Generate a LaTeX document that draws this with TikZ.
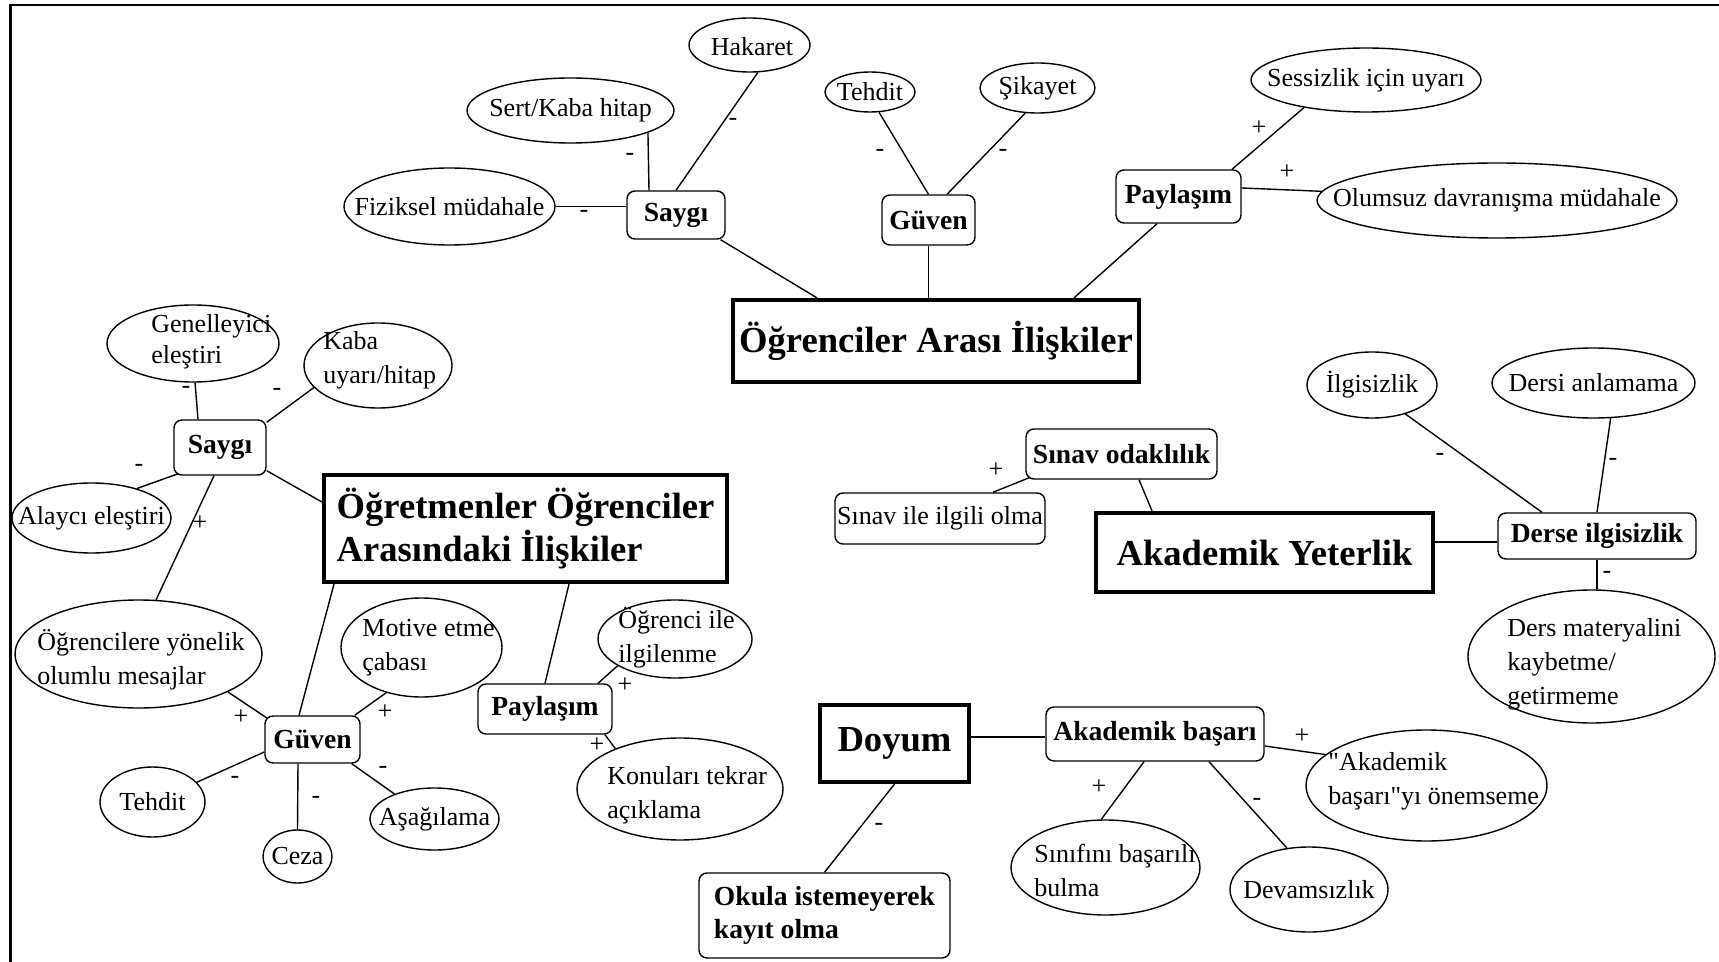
\documentclass[tikz,border=0pt]{standalone}
\usepackage{fontspec}
\setmainfont{Liberation Serif}[Ligatures=TeXOff]
\usetikzlibrary{shapes.geometric}

\newcommand\regfont{\fontsize{13}{17}\selectfont}
\newcommand\smallbold{\fontsize{13.8}{16.5}\selectfont\bfseries}
\newcommand\bigbold{\fontsize{18.3}{21.5}\selectfont\bfseries}

\begin{document}
\begin{tikzpicture}[x=0.5pt,y=-0.5pt,
  ell/.style={draw, ellipse, inner sep=0pt, line width=0.7pt},
  txt/.style={inner sep=0pt, align=left, font=\regfont},
  rbox/.style={draw, rectangle, rounded corners=4pt, inner sep=0pt, line width=0.7pt, font=\smallbold, align=left},
  mainbox/.style={draw, rectangle, inner sep=0pt, line width=2.1pt, font=\bigbold, align=left},
  sign/.style={inner sep=0pt, font=\regfont},
  link/.style={line width=0.7pt}]

\path[use as bounding box, fill=white] (0,0) rectangle (1719,962);

% page frame (top and left rules)
\draw[line width=1pt] (9,5) -- (1719,5);
\draw[line width=1.5pt] (10.5,4) -- (10.5,962);

% ---------------- Öğrenciler Arası İlişkiler ----------------
\node[mainbox, minimum width=203pt, minimum height=41pt] (ogr) at (936,341) {Öğrenciler Arası İlişkiler};
\node[rbox, minimum width=49pt, minimum height=24pt] (saygiA) at (676,215) {Saygı};
\node[rbox, minimum width=46.5pt, minimum height=25pt] (guvenA) at (928.5,220) {Güven};
\node[rbox, minimum width=62.5pt, minimum height=26.5pt] (paylA) at (1178.5,196.5) {Paylaşım};

\node[ell, minimum width=60.5pt, minimum height=27pt] (hakaret) at (749.5,45) {};
\node[txt] (hakaret-t) at (752,47) {Hakaret};
\node[ell, minimum width=103.5pt, minimum height=32.5pt] (sert) at (570.5,110.5) {};
\node[txt] (sert-t) at (sert) {Sert/Kaba hitap};
\node[ell, minimum width=105.5pt, minimum height=38.5pt] (fiz) at (449.5,206.5) {};
\node[txt] (fiz-t) at (fiz) {Fiziksel müdahale};
\node[ell, minimum width=45pt, minimum height=20pt] (tehditA) at (870,92) {};
\node[txt] (tehditA-t) at (tehditA) {Tehdit};
\node[ell, minimum width=57.5pt, minimum height=25pt] (sikayet) at (1037.5,88) {};
\node[txt] (sikayet-t) at (sikayet) {Şikayet};
\node[ell, minimum width=115pt, minimum height=32pt] (sessiz) at (1366,80) {};
\node[txt] (sessiz-t) at (sessiz) {Sessizlik için uyarı};
\node[ell, minimum width=180pt, minimum height=37.5pt] (olumsuz) at (1497,200.5) {};
\node[txt] (olumsuz-t) at (olumsuz) {Olumsuz davranışma müdahale};

\draw[link] (saygiA.-29) -- ([shift={(-119,0)}]ogr.north);
\draw[link] (guvenA.south) -- (guvenA.south |- ogr.north);
\draw[link] ([shift={(-21.5,0)}]paylA.south) -- ([shift={(138,0)}]ogr.north);

\draw[link] (fiz.east) -- (fiz.east -| saygiA.west);
\node[sign] (sg1) at (584,214) {-};
\draw[link] (sert.-16) -- ([shift={(-27,0)}]saygiA.north);
\node[sign] (sg2) at (630,157) {-};
\draw[link] (hakaret.-73) -- (saygiA.north);
\node[sign] (sg3) at (733,122) {-};
\draw[link] (tehditA.-66) -- (guvenA.north);
\node[sign] (sg4) at (880,153) {-};
\draw[link] (sikayet.-116) -- ([shift={(18.5,0)}]guvenA.north);
\node[sign] (sg5) at (1003,153) {-};
\draw[link] (sessiz.-156) -- ([shift={(53.5,0)}]paylA.north);
\node[sign] (sg6) at (1259,128) {+};
\draw[link] ([shift={(0,-8.5)}]paylA.east) -- (olumsuz.177);
\node[sign] (sg7) at (1287,172) {+};

% ---------------- Öğretmenler Öğrenciler Arasındaki İlişkiler ----------------
\node[mainbox, minimum width=201.5pt, minimum height=53.5pt] (ogrt) at (525.5,528.5) {Öğretmenler Öğrenciler\\Arasındaki İlişkiler};
\node[rbox, minimum width=46pt, minimum height=27.5pt] (saygiB) at (220,447.5) {Saygı};
\node[rbox, minimum width=47.5pt, minimum height=23.5pt] (guvenB) at (312.5,739.5) {Güven};
\node[rbox, minimum width=67pt, minimum height=25pt] (paylB) at (545,709) {Paylaşım};

\node[ell, minimum width=86pt, minimum height=38.5pt] (gen) at (193,343.5) {};
\node[txt, anchor=west, font=\fontsize{13}{15.5}\selectfont] (gen-t) at (151,341.5) {Genelleyici\\eleştiri};
\node[ell, minimum width=74pt, minimum height=42.5pt] (kaba) at (378,365.5) {};
\node[txt, anchor=west] (kaba-t) at (323,360) {Kaba\\uyarı/hitap};
\node[ell, minimum width=79.5pt, minimum height=35pt] (alayci) at (91.5,518) {};
\node[txt] (alayci-t) at (alayci) {Alaycı eleştiri};
\node[ell, minimum width=123.5pt, minimum height=54pt] (olumlu) at (138.5,654) {};
\node[txt, anchor=west] (olumlu-t) at (37,660) {Öğrencilere yönelik\\olumlu mesajlar};
\node[ell, minimum width=80.5pt, minimum height=49.5pt] (motive) at (421.5,647.5) {};
\node[txt, anchor=west] (motive-t) at (362,648) {Motive etme\\çabası};
\node[ell, minimum width=52.5pt, minimum height=35pt] (tehditB) at (152.5,802) {};
\node[txt] (tehditB-t) at (tehditB) {Tehdit};
\node[ell, minimum width=34.5pt, minimum height=26.5pt] (ceza) at (297.5,856.5) {};
\node[txt] (ceza-t) at (ceza) {Ceza};
\node[ell, minimum width=64.5pt, minimum height=31pt] (asagi) at (434.5,819) {};
\node[txt] (asagi-t) at (asagi) {Aşağılama};
\node[ell, minimum width=77pt, minimum height=39pt] (ilgilen) at (675,639) {};
\node[txt, anchor=west] (ilgilen-t) at (618,638) {Öğrenci ile\\ilgilenme};
\node[ell, minimum width=103pt, minimum height=51pt] (konu) at (680,789) {};
\node[txt, anchor=west] (konu-t) at (607,795) {Konuları tekrar\\açıklama};

\draw[link] (gen.-87) -- ([shift={(-22,0)}]saygiB.north);
\node[sign] (sg8) at (186,390) {-};
\draw[link] (kaba.-161) -- ([shift={(0,3)}]saygiB.north east);
\node[sign] (sg9) at (277,392) {-};
\draw[link] (alayci.33) -- ([shift={(5,-2)}]saygiB.south west);
\node[sign] (sg10) at (139,468) {-};
\draw[link] ([shift={(-6,0)}]saygiB.south) -- (olumlu.72);
\node[sign] (sg11) at (200,523) {+};
\draw[link] ([shift={(0,-5)}]saygiB.south east) -- ([shift={(0,-26.5)}]ogrt.west);

\draw[link] ([shift={(-13.5,0)}]guvenB.north) -- ([shift={(-191.5,0)}]ogrt.south);
\draw[link] (motive.-128) -- ([shift={(-6,0)}]guvenB.north east);
\node[sign] (sg12) at (385,712) {+};
\draw[link] (olumlu.-23) -- ([shift={(3,3)}]guvenB.north west);
\node[sign] (sg13) at (241,717) {+};
\draw[link] (tehditB.24) -- ([shift={(0,12.5)}]guvenB.west);
\node[sign] (sg14) at (235,780) {-};
\draw[link] ([shift={(-14.5,0)}]guvenB.south) -- (ceza.north);
\node[sign] (sg15) at (316,800) {-};
\draw[link] ([shift={(-9,0)}]guvenB.south east) -- (asagi.148);
\node[sign] (sg16) at (383,770) {-};

\draw[link] (paylB.north) -- ([shift={(43.5,0)}]ogrt.south);
\draw[link] (ilgilen.-155) -- ([shift={(53,0)}]paylB.north);
\node[sign] (sg17) at (625,685) {+};
\draw[link] ([shift={(60,0)}]paylB.south) -- (konu.148);
\node[sign] (sg18) at (597,745) {+};

% ---------------- Akademik Yeterlik ----------------
\node[mainbox, minimum width=168.5pt, minimum height=39.5pt] (akyet) at (1264.5,552.5) {Akademik Yeterlik};
\node[rbox, minimum width=95.5pt, minimum height=25pt] (sinavod) at (1121.5,454) {Sınav odaklılık};
\node[rbox, font=\regfont, minimum width=105pt, minimum height=25.5pt] (sinavil) at (940,518.5) {Sınav ile ilgili olma};
\node[rbox, minimum width=99pt, minimum height=23pt] (derse) at (1597,536) {Derse ilgisizlik};

\node[ell, minimum width=65pt, minimum height=33pt] (ilgisiz) at (1372,385) {};
\node[txt] (ilgisiz-t) at (ilgisiz) {İlgisizlik};
\node[ell, minimum width=101.5pt, minimum height=35pt] (anlama) at (1593.5,383) {};
\node[txt] (anlama-t) at (anlama) {Dersi anlamama};
\node[ell, minimum width=123.5pt, minimum height=66.5pt] (dmat) at (1591.5,656.5) {};
\node[txt, anchor=west] (dmat-t) at (1507,664) {Ders materyalini\\kaybetme/\\getirmeme};

\draw[link] ([shift={(53,0)}]sinavil.north) -- ([shift={(4,-2)}]sinavod.south west);
\node[sign] (sg19) at (996,470) {+};
\draw[link] ([shift={(17.5,0)}]sinavod.south) -- ([shift={(-112.5,0)}]akyet.north);
\draw[link] ([shift={(0,-10.5)}]akyet.east) -- ([shift={(0,6)}]derse.west);
\draw[link] (ilgisiz.-41) -- ([shift={(-55,0)}]derse.north);
\node[sign] (sg20) at (1440,457) {-};
\draw[link] (anlama.-64) -- (derse.north);
\node[sign] (sg21) at (1613,462) {-};
\draw[link] (derse.south) -- (derse.south |- dmat.north);
\node[sign] (sg22) at (1607,575) {-};

% ---------------- Doyum ----------------
\node[mainbox, minimum width=74.5pt, minimum height=38.5pt] (doyum) at (894.5,743.5) {Doyum};
\node[rbox, minimum width=109pt, minimum height=27pt] (akbas) at (1155,734) {Akademik başarı};
\node[rbox, minimum width=125.5pt, minimum height=42.5pt] (okula) at (824.5,915.5) {Okula istemeyerek\\kayıt olma};

\node[ell, minimum width=120.5pt, minimum height=55.5pt] (onem) at (1426.5,785.5) {};
\node[txt, anchor=west] (onem-t) at (1328,781) {"Akademik\\başarı"yı önemseme};
\node[ell, minimum width=94.5pt, minimum height=47.5pt] (sinif) at (1105.5,867.5) {};
\node[txt, anchor=west] (sinif-t) at (1034,870) {Sınıfını başarılı\\bulma};
\node[ell, minimum width=79pt, minimum height=42.5pt] (devam) at (1309,889.5) {};
\node[txt] (devam-t) at (devam) {Devamsızlık};

\draw[link] ([shift={(0,-6.5)}]doyum.east) -- ([shift={(0,3)}]akbas.west);
\draw[link] (doyum.south) -- (okula.north);
\node[sign] (sg23) at (879,827) {-};
\draw[link] ([shift={(0,12)}]akbas.east) -- (onem.163);
\node[sign] (sg24) at (1302,736) {+};
\draw[link] ([shift={(-11,0)}]akbas.south) -- (sinif.95);
\node[sign] (sg25) at (1099,787) {+};
\draw[link] ([shift={(54,0)}]akbas.south) -- (devam.118);
\node[sign] (sg26) at (1257,802) {-};

\end{tikzpicture}
\end{document}
